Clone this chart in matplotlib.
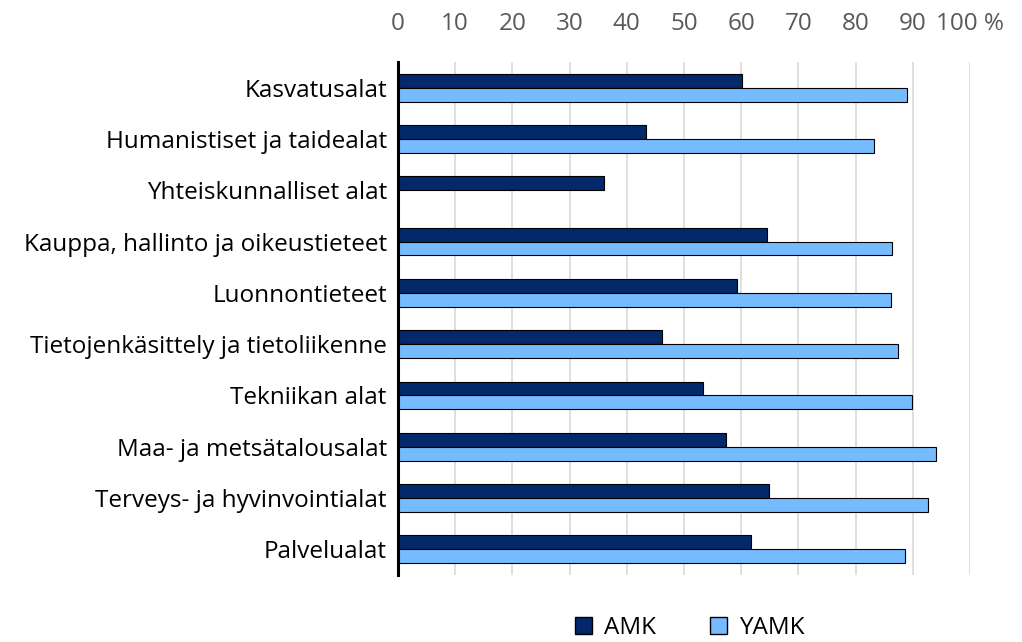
import numpy as np
import matplotlib
matplotlib.use("Agg")
import matplotlib.pyplot as plt
from matplotlib.patches import Patch

plt.rcParams['font.family'] = ['Open Sans', 'DejaVu Sans']

##Data
categories = ["Kasvatusalat", "Humanistiset ja taidealat", "Yhteiskunnalliset alat",
              "Kauppa, hallinto ja oikeustieteet", "Luonnontieteet",
              "Tietojenkäsittely ja tietoliikenne", "Tekniikan alat",
              "Maa- ja metsätalousalat", "Terveys- ja hyvinvointialat", "Palvelualat"]
amk  = [60.2, 43.4, 36.0, 64.6, 59.2, 46.1, 53.4, 57.4, 64.9, 61.7]
yamk = [89.0, 83.3, np.nan, 86.3, 86.2, 87.5, 89.9, 94.0, 92.7, 88.7]
xticks = [0, 10, 20, 30, 40, 50, 60, 70, 80, 90, 100]
xticklabels = ["0", "10", "20", "30", "40", "50", "60", "70", "80", "90", "100 %"]

##Style
c_amk  = '#03296B'
c_yamk = '#75BBFD'
label  = 17.5
bar_h  = 0.27

fig = plt.figure(figsize=(10.22, 6.42), dpi=100)
ax = fig.add_axes([0.3894, 0.1044, 0.5597, 0.799])

y = np.arange(len(categories))
ax.barh(y - bar_h/2, amk, height=bar_h, color=c_amk, edgecolor='black', lw=0.8, zorder=3)
ax.barh(y + bar_h/2, yamk, height=bar_h, color=c_yamk, edgecolor='black', lw=0.8, zorder=3)

ax.set_ylim(len(categories) - 0.5, -0.5)
ax.set_yticks(y)
ax.set_yticklabels(categories, fontsize=label, color='black')
ax.set_xlim(0, 100)
ax.set_xticks(xticks)
ax.set_xticklabels(xticklabels, fontsize=label, color='#595959')
ax.xaxis.tick_top()
ax.tick_params(axis='x', length=0, pad=19)
ax.tick_params(axis='y', length=0, pad=8)
ax.xaxis.grid(color='#d9d9d9', lw=1.2, zorder=0)
for s in ['top', 'right', 'bottom']:
    ax.spines[s].set_visible(False)
ax.spines['left'].set_linewidth(2.2)
ax.spines['left'].set_zorder(4)

handles = [Patch(facecolor=c_amk, edgecolor='black', label='AMK'),
           Patch(facecolor=c_yamk, edgecolor='black', label='YAMK')]
fig.legend(handles=handles, loc='center', bbox_to_anchor=(0.675, 0.022), ncol=2,
           frameon=False, fontsize=label, handlelength=0.7, handleheight=0.7,
           handletextpad=0.5, columnspacing=2.2)

fig.savefig('out.png', dpi=100)
